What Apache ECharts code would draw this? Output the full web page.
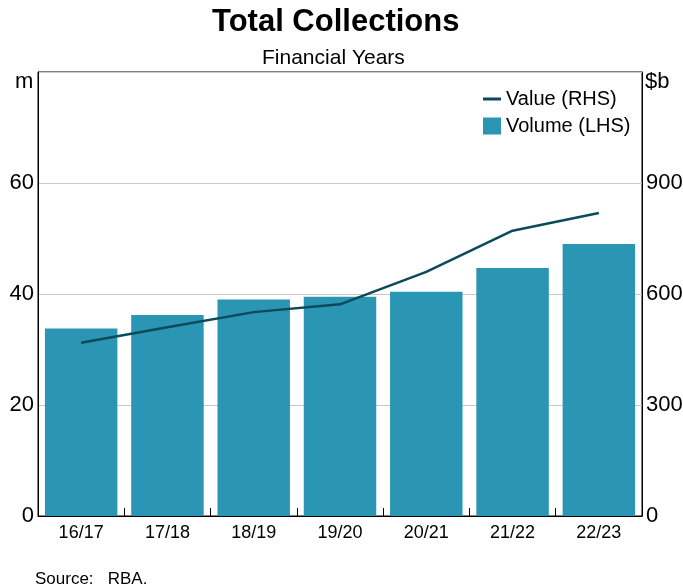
<!DOCTYPE html>
<html><head><meta charset="utf-8">
<script src="https://cdn.jsdelivr.net/npm/echarts@6/dist/echarts.min.js"></script>
<style>html,body{margin:0;padding:0;background:#fff}#c{width:683px;height:587px}</style>
</head><body><div id="c"></div>
<script>
const categories = ['16/17','17/18','18/19','19/20','20/21','21/22','22/23'];
const volume = [33.8, 36.2, 39.0, 39.5, 40.4, 44.7, 49.0];
const value = [468, 510, 551, 572, 660, 771, 819];
const leftTicks = [0, 20, 40, 60, 80];
const rightTicks = [0, 300, 600, 900, 1200];

const chart = echarts.init(document.getElementById('c'), null, {renderer:'canvas'});
const F = 'Liberation Sans, Arial, sans-serif';
chart.setOption({
  animation: false,
  textStyle: {fontFamily: F},
  title: [
    {text: 'Total Collections', left: 207, top: 2, textStyle: {fontFamily: F, fontSize: 31, fontWeight: 'bold', color: '#000'}},
    {text: 'Financial Years', left: 257, top: 43, textStyle: {fontFamily: F, fontSize: 21, fontWeight: 'normal', color: '#000'}},
    {text: 'Source:   RBA.', left: 30, top: 566, textStyle: {fontFamily: F, fontSize: 17, fontWeight: 'normal', color: '#000'}}
  ],
  grid: {left: 38, right: 41, top: 72, bottom: 71, show: true, borderColor: '#000', borderWidth: 1, backgroundColor: 'transparent', outerBoundsMode: 'none', containLabel: false},
  legend: {
    orient: 'vertical', left: 478, top: 84, itemWidth: 18, itemHeight: 17, itemGap: 7,
    textStyle: {fontFamily: F, fontSize: 20, color: '#000'},
    data: [
      {name: 'Value (RHS)', icon: 'path://M0,0 L18,0 L18,3 L0,3 Z'},
      {name: 'Volume (LHS)', icon: 'rect'}
    ]
  },
  xAxis: {
    type: 'category', data: categories,
    axisLine: {lineStyle: {color: '#000', width: 1}},
    axisTick: {show: true, inside: true, length: 8, lineStyle: {color: '#000'}},
    axisLabel: {color: '#000', fontSize: 18, fontFamily: F, margin: 8}
  },
  yAxis: [
    {type: 'value', min: leftTicks[0], max: leftTicks[leftTicks.length-1], interval: 20,
     axisLine: {show: true, lineStyle: {color: '#000'}}, axisTick: {show: false},
     axisLabel: {color: '#000', fontSize: 22, fontFamily: F, margin: 4, formatter: v => v === 80 ? '' : v},
     splitLine: {show: true, lineStyle: {color: '#c8c8c8', width: 1}}},
    {type: 'value', min: rightTicks[0], max: rightTicks[rightTicks.length-1], interval: 300, position: 'right',
     axisLine: {show: true, lineStyle: {color: '#000'}}, axisTick: {show: false},
     axisLabel: {color: '#000', fontSize: 22, fontFamily: F, margin: 4, formatter: v => v === 1200 ? '' : v},
     splitLine: {show: false}}
  ],
  graphic: [
    {type: 'text', left: 15, top: 71, style: {text: 'm', font: '22px ' + F, fill: '#000'}},
    {type: 'text', left: 645, top: 71, style: {text: '$b', font: '22px ' + F, fill: '#000'}}
  ],
  series: [
    {name: 'Volume (LHS)', type: 'bar', yAxisIndex: 0, data: volume, barCategoryGap: '16%',
     itemStyle: {color: '#2a96b4'}, z: 2},
    {name: 'Value (RHS)', type: 'line', yAxisIndex: 1, data: value, symbol: 'none',
     lineStyle: {color: '#0b4a5a', width: 2.5}, itemStyle: {color: '#0b4a5a'}, z: 3}
  ]
});
</script></body></html>
